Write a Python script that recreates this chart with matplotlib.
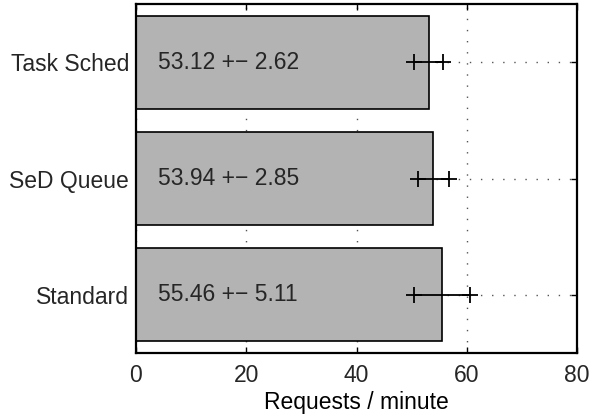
import matplotlib
matplotlib.use("Agg")
import matplotlib.pyplot as plt
import numpy as np

categories = ["Standard", "SeD Queue", "Task Sched"]
means = [55.46, 53.94, 53.12]
errors = [5.11, 2.85, 2.62]
xticks = [0, 20, 40, 60, 80]

plt.rcParams['font.family'] = ['Liberation Sans', 'DejaVu Sans']
plt.rcParams['font.size'] = 16.5
plt.rcParams['text.color'] = '#262626'
plt.rcParams['xtick.labelcolor'] = '#262626'
plt.rcParams['ytick.labelcolor'] = '#262626'

fig = plt.figure(figsize=(5.92, 4.19), dpi=100)
ax = fig.add_axes([0.2297, 0.1575, 0.745, 0.8325])

pos = np.arange(len(categories))
m = np.array(means)
e = np.array(errors)

ax.barh(pos, m, height=0.8, color='#b3b3b3', edgecolor='black', linewidth=1.2, zorder=2)
ax.errorbar(m, pos, xerr=e, fmt='none', ecolor='black', elinewidth=1.3, capsize=0, zorder=3)
ax.plot(m - e, pos, '+', color='black', ms=11, mew=1.3, zorder=3)
ax.plot(m + e, pos, '+', color='black', ms=11, mew=1.3, zorder=3)

for p, mv, ev in zip(pos, means, errors):
    ax.text(4, p, f"{mv:.2f} +\u2212 {ev:.2f}", va='center', ha='left', fontsize=16.5, zorder=4)

ax.set_xlim(0, 80)
ax.set_ylim(-0.5, 2.5)
ax.set_xticks(xticks)
ax.set_yticks(pos)
ax.set_yticklabels(categories)
ax.set_xlabel("Requests / minute", labelpad=2.5)

ax.grid(True, linestyle=(0, (1, 7)), color='#555555', linewidth=1, zorder=1)
ax.set_axisbelow(True)
ax.tick_params(axis='x', direction='in', top=True, length=4, width=1, pad=8)
ax.tick_params(axis='y', direction='in', right=True, length=4, width=1, pad=5)
for s in ax.spines.values():
    s.set_linewidth(1.6)

fig.savefig("out.png", dpi=100)
